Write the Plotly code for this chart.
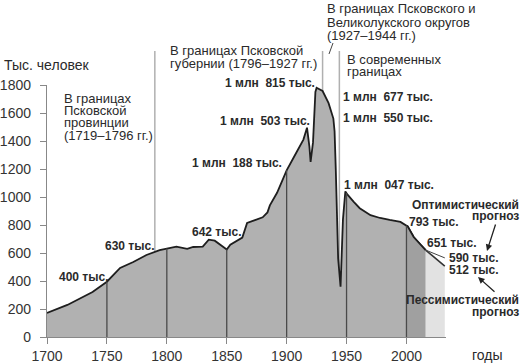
import numpy as np
import plotly.graph_objects as go

# ---- data (thousand people) ----
years = [1700, 1717, 1738, 1750, 1761, 1772, 1783, 1794, 1800, 1808, 1817, 1822, 1830, 1835,
         1840, 1850, 1853, 1863, 1867, 1875, 1880, 1884, 1886, 1892, 1899, 1900, 1907, 1914,
         1917, 1919, 1920, 1922, 1924, 1925, 1930, 1935, 1939, 1940, 1941, 1942, 1943, 1945,
         1946, 1947, 1949, 1951, 1956, 1961, 1970, 1978, 1986, 1995, 2001, 2006, 2012, 2016]
population = [172, 229, 321, 395, 493, 536, 586, 621, 632, 645, 630, 643, 645, 695,
              688, 625, 660, 710, 815, 840, 855, 890, 940, 1030, 1170, 1190, 1300, 1410,
              1495, 1360, 1250, 1390, 1750, 1780, 1757, 1670, 1560, 1470, 1200, 840, 560, 360,
              600, 840, 1040, 1015, 965, 920, 870, 850, 836, 822, 790, 714, 657, 621]
forecast_years = [2016, 2032]
optimistic = [621, 565]
pessimistic = [621, 507]
recent_start = 2000
grid_years = [1750, 1800, 1850, 1900, 1950, 2000]
border_years = [1790, 1930, 1944]
x_ticks = [1700, 1750, 1800, 1850, 1900, 1950, 2000]
y_ticks = [0, 200, 400, 600, 800, 1000, 1200, 1400, 1600, 1800]

W, H = 525, 364
L, R, T, B = 47, 446, 85, 337
X0, X1 = 1700, 2033
Y0, Y1 = 0, 1800

def px_x(p):
    return (p - L) / (R - L)

def px_y(p):
    return (B - p) / (B - T)

fig = go.Figure()

# main filled area
fig.add_trace(go.Scatter(x=years, y=population, mode="lines", fill="tozeroy",
                         fillcolor="#b1b1b1", line=dict(color="#1e1e1e", width=1.8),
                         hoverinfo="skip"))
# darker recent segment
ry = [y for y in years if y >= recent_start]
rv = [v for y, v in zip(years, population) if y >= recent_start]
ry = [recent_start] + ry
rv = [float(np.interp(recent_start, years, population))] + rv
fig.add_trace(go.Scatter(x=ry, y=rv, mode="lines", fill="tozeroy",
                         fillcolor="#a0a0a0", line=dict(color="#1e1e1e", width=1.8),
                         hoverinfo="skip"))
# pessimistic forecast area
fig.add_trace(go.Scatter(x=forecast_years, y=pessimistic, mode="lines", fill="tozeroy",
                         fillcolor="#e2e2e2", line=dict(color="#333333", width=1.6),
                         hoverinfo="skip"))
# optimistic forecast line
fig.add_trace(go.Scatter(x=forecast_years, y=optimistic, mode="lines",
                         line=dict(color="#444444", width=1), hoverinfo="skip"))

# vertical grid lines inside the filled area
gx, gy = [], []
for g in grid_years:
    gx += [g, g, None]
    gy += [0, float(np.interp(g, years, population)), None]
fig.add_trace(go.Scatter(x=gx, y=gy, mode="lines", line=dict(color="#4a4a4a", width=1.3),
                         hoverinfo="skip"))

shapes = []
for b in border_years:
    xp = (b - X0) / (X1 - X0)
    shapes.append(dict(type="line", xref="paper", yref="paper", x0=xp, x1=xp,
                       y0=0, y1=px_y(51), line=dict(color="#b0b0b0", width=1.5),
                       layer="below"))
# small slash pointer
shapes.append(dict(type="line", xref="paper", yref="paper", x0=px_x(333), x1=px_x(329),
                   y0=px_y(43), y1=px_y(54), line=dict(color="#444444", width=1)))

ann = []
def txt(px, py, s, anchor="left", bold=False, size=13):
    ann.append(dict(xref="paper", yref="paper", x=px_x(px), y=px_y(py),
                    text=("<b>%s</b>" % s) if bold else s, showarrow=False,
                    xanchor=anchor, yanchor="middle",
                    font=dict(size=size, color="#2a2a2a",
                              family="Liberation Sans, Arial, sans-serif")))

txt(2, 65, "Тыс. человек", size=14)
txt(62, 98, "В границах")
txt(62, 110, "Псковской")
txt(62, 122, "провинции")
txt(62, 135, "(1719–1796 гг.)")
txt(168, 50, "В границах Псковской")
txt(168, 63, "губернии (1796–1927 гг.)")
txt(325, 8, "В границах Псковского и")
txt(325, 22, "Великолукского округов")
txt(325, 35, "(1927–1944 гг.)")
txt(345, 60, "В современных")
txt(345, 72, "границах")
txt(470, 355, "годы", size=14)

txt(57, 277, "400 тыс.", bold=True, size=12)
txt(103, 246, "630 тыс.", bold=True, size=12)
txt(190, 232, "642 тыс.", bold=True, size=12)
txt(317, 83, "1 млн  815 тыс.", anchor="right", bold=True, size=12)
txt(312, 121, "1 млн  503 тыс.", anchor="right", bold=True, size=12)
txt(284, 163, "1 млн  188 тыс.", anchor="right", bold=True, size=12)
txt(341, 97, "1 млн  677 тыс.", bold=True, size=12)
txt(341, 118, "1 млн  550 тыс.", bold=True, size=12)
txt(342, 185, "1 млн  047 тыс.", bold=True, size=12)
txt(407, 222, "793 тыс.", bold=True, size=12)
txt(425, 243, "651 тыс.", bold=True, size=12)
txt(447, 258, "590 тыс.", bold=True, size=12)
txt(447, 270, "512 тыс.", bold=True, size=12)
txt(521, 205, "Оптимистический", anchor="right", bold=True, size=12)
txt(521, 216, "прогноз", anchor="right", bold=True, size=12)
txt(521, 300, "Пессимистический", anchor="right", bold=True, size=12)
txt(521, 312, "прогноз", anchor="right", bold=True, size=12)

# arrows (tail -> head, pixel offsets)
def arrow(tx, ty, hx, hy):
    ann.append(dict(xref="paper", yref="paper", axref="pixel", ayref="pixel",
                    x=px_x(hx), y=px_y(hy), ax=tx - hx, ay=ty - hy, text="",
                    showarrow=True, arrowhead=2, arrowsize=1, arrowwidth=1.3,
                    arrowcolor="#222222", standoff=0, startstandoff=0))
arrow(496, 223, 487, 251)
arrow(496, 293, 478, 277)

fig.update_layout(
    width=W, height=H,
    margin=dict(l=L, r=W - R, t=T, b=H - B, autoexpand=False),
    paper_bgcolor="white", plot_bgcolor="white",
    showlegend=False,
    shapes=shapes, annotations=ann,
    font=dict(family="Liberation Sans, Arial, sans-serif", color="#333333"),
)
fig.update_xaxes(range=[X0, X1], tickvals=x_ticks, showgrid=False, zeroline=False,
                 automargin=False,
                 showline=True, linecolor="#888888", linewidth=1.2, ticks="outside",
                 ticklen=6, tickcolor="#888888", tickfont=dict(size=14, color="#333333"))
fig.update_yaxes(range=[Y0, Y1], tickvals=y_ticks, showgrid=False, zeroline=False,
                 automargin=False,
                 showline=True, linecolor="#888888", linewidth=1.2, ticks="outside",
                 ticklen=6, tickcolor="#888888", tickfont=dict(size=14, color="#333333"),
                 ticklabelstandoff=6)

fig.write_html("out.html", config={"displayModeBar": False, "staticPlot": True},
               post_script="document.body.style.margin='0';document.body.style.overflow='hidden';")
